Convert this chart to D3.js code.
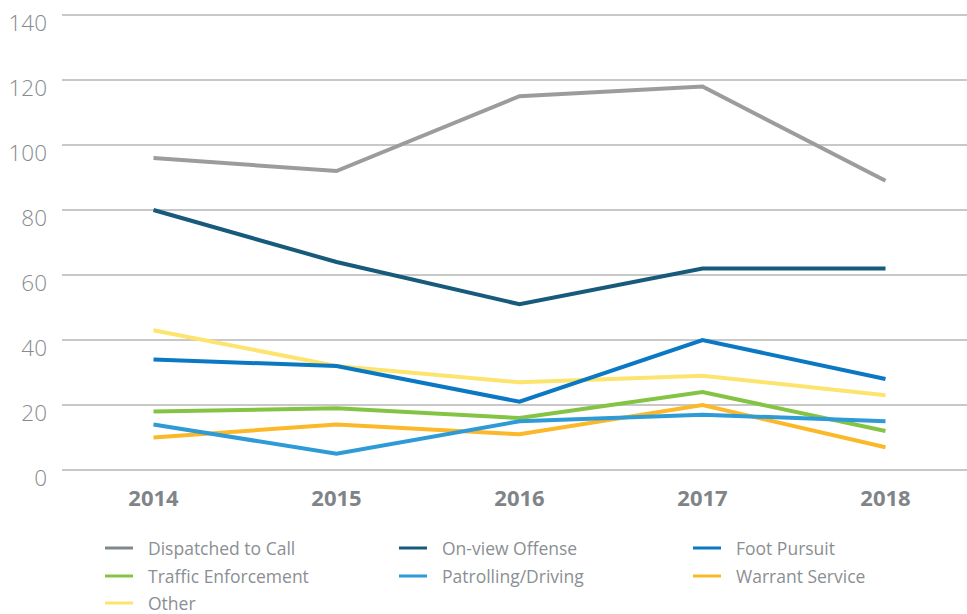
<!DOCTYPE html>
<html>
<head>
<meta charset="utf-8">
<script src="https://cdn.jsdelivr.net/npm/d3@7"></script>
<style>
  html, body { margin: 0; padding: 0; background: #fff; }
  svg { display: block; }
  text { font-family: "Open Sans", "Segoe UI", sans-serif; }
</style>
</head>
<body>
<svg id="chart" width="967" height="614"></svg>
<script>
const years = ["2014", "2015", "2016", "2017", "2018"];
const yTicks = [0, 20, 40, 60, 80, 100, 120, 140];
const seriesNames = ["Dispatched to Call", "On-view Offense", "Foot Pursuit", "Traffic Enforcement", "Patrolling/Driving", "Warrant Service", "Other"];
const dispatched = [96, 92, 115, 118, 89];
const onView = [80, 64, 51, 62, 62];
const footPursuit = [34, 32, 21, 40, 28];
const traffic = [18, 19, 16, 24, 12];
const patrolling = [14, 5, 15, 17, 15];
const warrant = [10, 14, 11, 20, 7];
const other = [43, 32, 27, 29, 23];
const lineColors = ["#9c9c9e", "#175a7c", "#0a78c3", "#84c444", "#2e9bd7", "#fbb829", "#fde46e"];
const swatchColors = ["#7e888d", "#175a7c", "#0a78c3", "#84c444", "#2e9bd7", "#fbb829", "#fde46e"];

const seriesValues = [dispatched, onView, footPursuit, traffic, patrolling, warrant, other];
// draw order: back to front
const drawOrder = [0, 1, 6, 2, 3, 5, 4];

const svg = d3.select("#chart");
const x = d3.scaleBand().domain(years).range([62, 977]);
const y = d3.scaleLinear().domain([0, 140]).range([470, 15]);

// grid
svg.append("g").selectAll("line").data(yTicks).join("line")
  .attr("x1", 62).attr("x2", 967)
  .attr("y1", d => y(d)).attr("y2", d => y(d))
  .attr("stroke", "#c8c8c8").attr("stroke-width", 2);

// y labels
svg.append("g").selectAll("text").data(yTicks).join("text")
  .attr("x", 47).attr("y", d => y(d) + 16)
  .attr("text-anchor", "end")
  .attr("font-size", 22.5)
  .attr("font-weight", 300)
  .attr("fill", "#868b8f")
  .text(d => d);

// x labels
svg.append("g").selectAll("text").data(years).join("text")
  .attr("x", d => x(d) + x.bandwidth() / 2).attr("y", 506)
  .attr("text-anchor", "middle")
  .attr("font-size", 22)
  .attr("font-weight", "bold")
  .attr("fill", "#7f8488")
  .text(d => d);

const line = d3.line()
  .x((d, i) => x(years[i]) + x.bandwidth() / 2)
  .y(d => y(d));

svg.append("g").selectAll("path").data(drawOrder).join("path")
  .attr("d", i => line(seriesValues[i]))
  .attr("fill", "none")
  .attr("stroke", i => lineColors[i])
  .attr("stroke-width", 4)
  .attr("stroke-linejoin", "miter");

// legend
const legX = [105, 399, 693];
const legY = [548, 576, 603];
const leg = svg.append("g").selectAll("g").data(seriesNames).join("g")
  .attr("transform", (d, i) => `translate(${legX[i % 3]},${legY[Math.floor(i / 3)]})`);
leg.append("line")
  .attr("x1", 0).attr("x2", 28).attr("y1", 0).attr("y2", 0)
  .attr("stroke", (d, i) => swatchColors[i]).attr("stroke-width", 3);
leg.append("text")
  .attr("x", 43).attr("y", 7)
  .attr("font-size", 17.5)
  .attr("fill", "#8a8f93")
  .text(d => d);
</script>
</body>
</html>
